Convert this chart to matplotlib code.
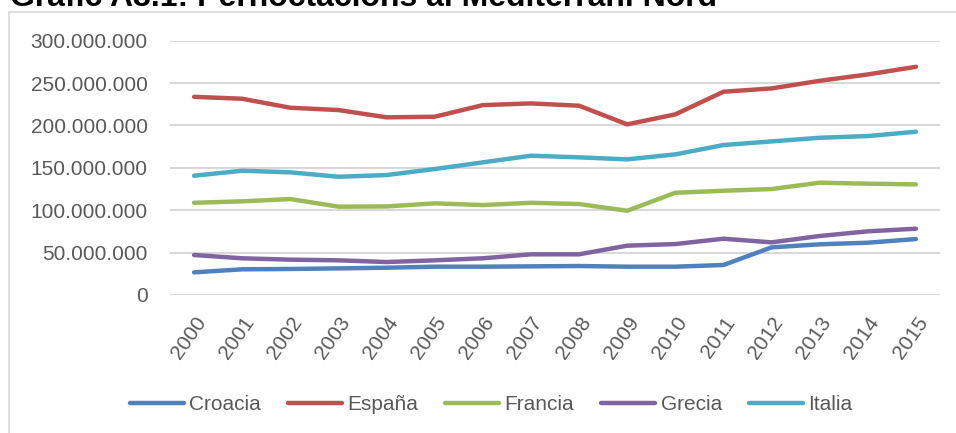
import numpy as np
import matplotlib
matplotlib.use("Agg")
import matplotlib.pyplot as plt
from matplotlib.patches import Rectangle
from matplotlib.ticker import FuncFormatter

plt.rcParams["font.family"] = ["Liberation Sans", "DejaVu Sans"]

TITLE = "Gràfic A3.1: Pernoctacions al Mediterrani Nord"
years = [str(y) for y in range(2000, 2016)]

# millions of overnight stays
croacia = [26.7, 30.3, 30.7, 31.4, 32.2, 33.4, 33.4, 33.8, 34.2, 33.4, 33.4, 35.4, 56.2, 59.8, 61.7, 66.0]
espana  = [233.8, 231.5, 220.9, 218.2, 209.6, 210.3, 224.0, 226.0, 223.3, 201.3, 213.1, 239.8, 243.7, 252.7, 260.2, 269.2]
francia = [108.8, 110.5, 113.2, 104.2, 104.5, 108.1, 106.1, 108.8, 107.3, 99.4, 120.6, 123.0, 125.0, 132.5, 131.3, 130.5]
grecia  = [47.2, 43.3, 41.7, 40.9, 38.9, 40.9, 43.3, 48.0, 48.0, 58.2, 60.1, 66.4, 62.1, 69.6, 75.1, 78.2]
italia  = [140.7, 146.6, 144.7, 139.5, 141.5, 148.6, 156.5, 164.3, 162.4, 160.0, 165.9, 176.9, 181.2, 185.5, 187.5, 192.6]

names = ["Croacia", "España", "Francia", "Grecia", "Italia"]
series = [croacia, espana, francia, grecia, italia]
colors = ["#4F81BD", "#C0504D", "#9BBB59", "#8064A2", "#4BACC6"]

W, H = 956, 433
fig = plt.figure(figsize=(W/100, H/100), dpi=100)
ax = fig.add_axes([170/W, 1 - 295/H, 770/W, (295 - 40.7)/H])

x = np.arange(len(years))
for name, vals, col in zip(names, series, colors):
    ax.plot(x, np.array(vals) * 1e6, color=col, lw=3.2, solid_capstyle="round",
            solid_joinstyle="round", label=name)

ax.set_xlim(-0.5, len(years) - 0.5)
ax.set_ylim(0, 300e6)
ax.set_yticks(np.arange(0, 300e6 + 1, 50e6))
ax.yaxis.set_major_formatter(FuncFormatter(lambda v, p: f"{int(v):,}".replace(",", ".")))
ax.set_xticks(x)
ax.set_xticklabels(years, rotation=55, ha="right", rotation_mode="anchor")
ax.tick_params(axis="both", length=0, labelsize=15, colors="#595959")
ax.tick_params(axis="x", pad=13)
ax.tick_params(axis="y", pad=16)
ax.grid(axis="y", color="#D9D9D9", lw=1.5)
ax.set_axisbelow(True)
for s in ax.spines.values():
    s.set_visible(False)

# chart frame (runs off the right and bottom edges)
fig.patches.append(Rectangle((8.5/W, -0.1), 1.2, 1 - 11.5/H + 0.1, transform=fig.transFigure,
                             fill=False, edgecolor="#D9D9D9", lw=1.2))

fig.text(10/W, 1 - 6/H, TITLE, fontsize=23, fontweight="bold", va="baseline", ha="left")

leg = ax.legend(loc="center", bbox_to_anchor=(491/W, 28/H), bbox_transform=fig.transFigure,
                ncol=5, frameon=False, fontsize=15, handlelength=2.6, handletextpad=0.25,
                columnspacing=1.3)
for t in leg.get_texts():
    t.set_color("#595959")

fig.savefig("out.png", dpi=100)
